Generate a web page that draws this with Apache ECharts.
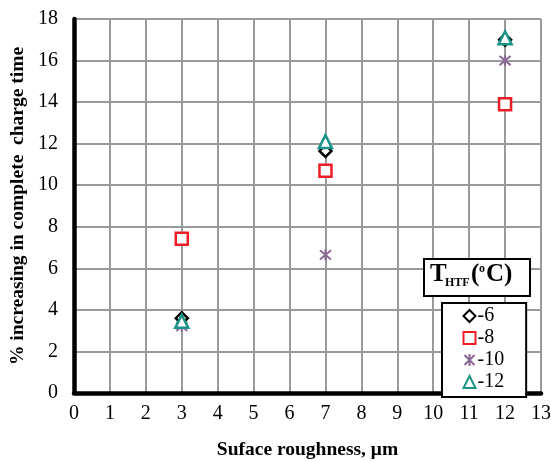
<!DOCTYPE html>
<html><head><meta charset="utf-8">
<script src="https://cdn.jsdelivr.net/npm/echarts@6/dist/echarts.min.js"></script>
<style>html,body{margin:0;padding:0;background:#fff}#c{width:551px;height:461px}</style>
</head><body><div id="c"></div>
<script>
const xValues = [3, 7, 12];
const seriesNames = ['-6', '-8', '-10', '-12'];
const s6 = [3.6, 11.65, 17.0];
const s8 = [7.42, 10.7, 13.9];
const s10 = [3.2, 6.65, 16.0];
const s12 = [3.45, 12.1, 17.1];
const xTitle = 'Suface roughness, \u03bcm';
const yTitle = '% increasing in complete  charge time';

const starPath = 'path://M0,0L10,10M10,0L0,10M5,-1L5,11';
const font = '"Liberation Serif","Times New Roman",serif';
function pts(v){ return xValues.map((x,i)=>[x, v[i]]); }
const chart = echarts.init(document.getElementById('c'));
chart.setOption({
  animation:false,
  textStyle:{fontFamily:font},
  grid:{left:74,right:10,top:19,bottom:68,containLabel:false,outerBoundsMode:'none'},
  xAxis:{type:'value',min:0,max:13,interval:1,
    name:xTitle,nameLocation:'middle',nameGap:47,nameMoveOverlap:false,
    nameTextStyle:{fontFamily:font,fontWeight:'bold',fontSize:19.5,color:'#000'},
    axisLine:{show:true,onZero:false,lineStyle:{color:'#000',width:4.5}},
    axisTick:{show:false},
    axisLabel:{fontFamily:font,fontSize:20,color:'#000',margin:11},
    splitLine:{show:true,lineStyle:{color:'#9a9a9a',width:2}}},
  yAxis:{type:'value',min:0,max:18,interval:2,
    name:yTitle,nameLocation:'middle',nameGap:46,nameMoveOverlap:false,
    nameTextStyle:{fontFamily:font,fontWeight:'bold',fontSize:19.5,color:'#000'},
    axisLine:{show:true,lineStyle:{color:'#000',width:4.5}},
    axisTick:{show:false},
    axisLabel:{fontFamily:font,fontSize:20,color:'#000',margin:16},
    splitLine:{show:true,lineStyle:{color:'#9a9a9a',width:2}}},
  legend:{orient:'vertical',left:442,top:303,
    backgroundColor:'#fff',borderColor:'#000',borderWidth:2,
    padding:[3,22,5,20],itemGap:2,itemWidth:12,itemHeight:12,
    textStyle:{fontFamily:font,fontSize:20,lineHeight:20,color:'#000',padding:[0,0,0,-3]},
    data:seriesNames},
  series:[
    {name:'-6',type:'scatter',data:pts(s6),symbol:'diamond',symbolSize:12,z:3,
     itemStyle:{color:'#fff',borderColor:'#000',borderWidth:2.5,opacity:1}},
    {name:'-8',type:'scatter',data:pts(s8),symbol:'rect',symbolSize:12,z:3,
     itemStyle:{color:'#fff',borderColor:'#ee1c25',borderWidth:2.5,opacity:1}},
    {name:'-10',type:'scatter',data:pts(s10),symbol:starPath,symbolSize:11,z:3,
     itemStyle:{color:'none',borderColor:'#8a6a94',borderWidth:2,opacity:1}},
    {name:'-12',type:'scatter',data:pts(s12),symbol:'triangle',symbolSize:13,z:4,
     itemStyle:{color:'#fff',borderColor:'#1a9488',borderWidth:2.5,opacity:1}}
  ],
  graphic:[
    {type:'rect',left:423,top:258,shape:{width:106,height:37},z:100,
     style:{fill:'#fff',stroke:'#000',lineWidth:2}},
    {type:'text',left:430,top:262,z:101,style:{text:'T',font:'bold 25px '+font,fill:'#000'}},
    {type:'text',left:445,top:277,z:101,style:{text:'HTF',font:'bold 12px '+font,fill:'#000'}},
    {type:'text',left:471,top:262,z:101,style:{text:'(',font:'bold 25px '+font,fill:'#000'}},
    {type:'text',left:479,top:263,z:101,style:{text:'o',font:'bold 12px '+font,fill:'#000'}},
    {type:'text',left:486,top:262,z:101,style:{text:'C)',font:'bold 25px '+font,fill:'#000'}}
  ]
});
</script></body></html>
